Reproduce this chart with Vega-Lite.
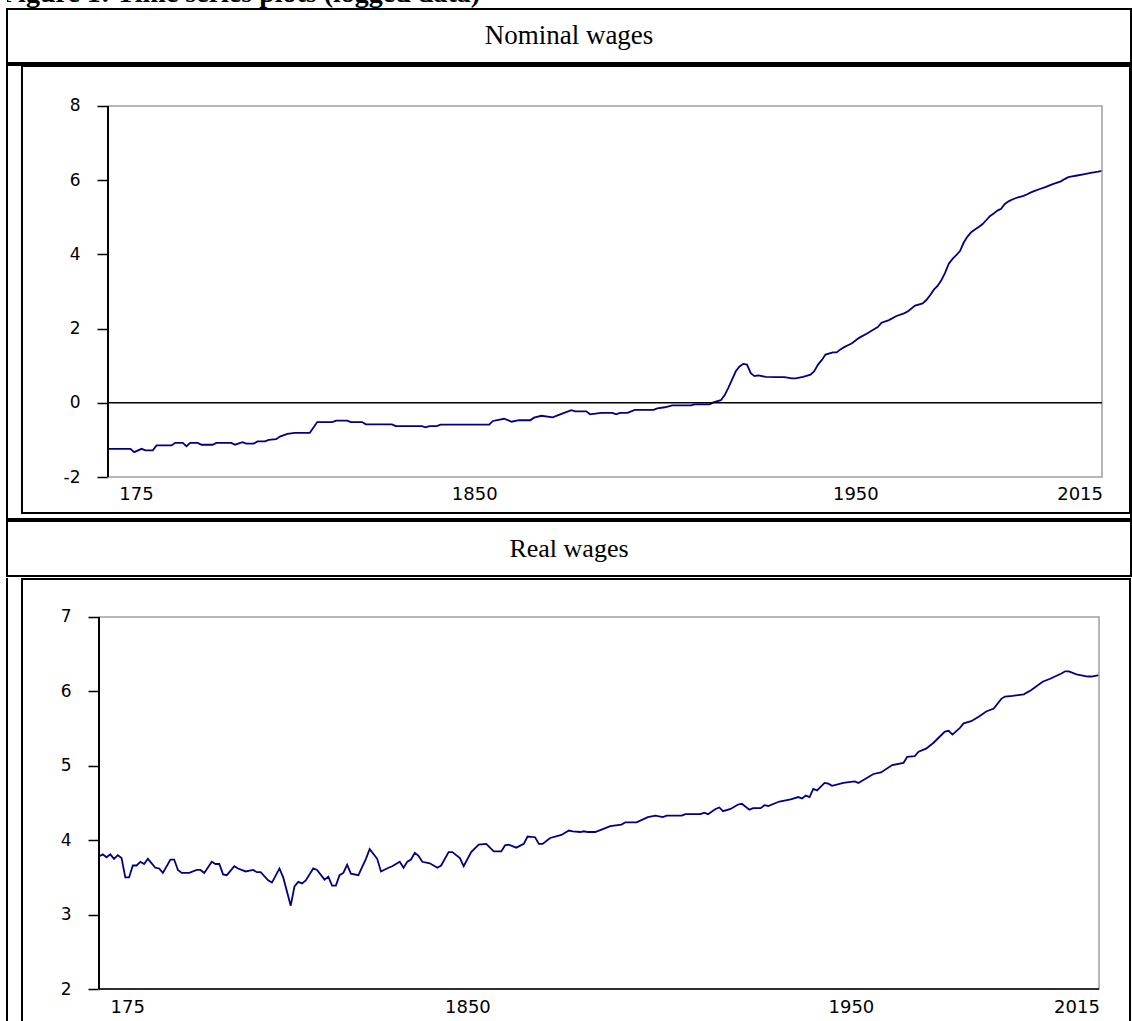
{
  "$schema": "https://vega.github.io/schema/vega-lite/v6.json",
  "padding": {"left": 6, "top": 0, "right": 0, "bottom": 0},
  "autosize": {"type": "pad"},
  "background": "white",
  "spacing": 0,
  "config": {
    "view": {"stroke": null},
    "concat": {"spacing": 0},
    "axis": {"grid": false, "domain": false, "labelFont": "DejaVu Sans", "labelFontSize": 17, "labelColor": "#000", "tickColor": "#000"}
  },
  "datasets": {
    "nominal": [
      {"year":1750,"value":-1.24},{"year":1756,"value":-1.24},{"year":1757,"value":-1.33},{"year":1759,"value":-1.24},{"year":1760,"value":-1.28},{"year":1762,"value":-1.28},{"year":1763,"value":-1.15},{"year":1767,"value":-1.15},{"year":1768,"value":-1.08},{"year":1770,"value":-1.08},{"year":1771,"value":-1.17},{"year":1772,"value":-1.08},{"year":1774,"value":-1.08},{"year":1775,"value":-1.13},{"year":1778,"value":-1.13},{"year":1779,"value":-1.08},{"year":1783,"value":-1.08},{"year":1784,"value":-1.13},{"year":1786,"value":-1.06},{"year":1787,"value":-1.10},{"year":1789,"value":-1.10},{"year":1790,"value":-1.04},{"year":1792,"value":-1.04},{"year":1793,"value":-1.00},{"year":1795,"value":-0.98},{"year":1796,"value":-0.91},{"year":1798,"value":-0.84},{"year":1800,"value":-0.81},{"year":1804,"value":-0.81},{"year":1806,"value":-0.52},{"year":1810,"value":-0.52},{"year":1811,"value":-0.48},{"year":1814,"value":-0.48},{"year":1815,"value":-0.52},{"year":1818,"value":-0.52},{"year":1819,"value":-0.58},{"year":1826,"value":-0.58},{"year":1827,"value":-0.63},{"year":1834,"value":-0.63},{"year":1835,"value":-0.66},{"year":1836,"value":-0.63},{"year":1838,"value":-0.63},{"year":1839,"value":-0.59},{"year":1852,"value":-0.59},{"year":1853,"value":-0.49},{"year":1856,"value":-0.43},{"year":1858,"value":-0.51},{"year":1860,"value":-0.47},{"year":1863,"value":-0.47},{"year":1864,"value":-0.40},{"year":1866,"value":-0.35},{"year":1869,"value":-0.39},{"year":1871,"value":-0.31},{"year":1874,"value":-0.20},{"year":1875,"value":-0.23},{"year":1878,"value":-0.23},{"year":1879,"value":-0.31},{"year":1882,"value":-0.27},{"year":1885,"value":-0.27},{"year":1886,"value":-0.31},{"year":1887,"value":-0.27},{"year":1889,"value":-0.27},{"year":1891,"value":-0.19},{"year":1896,"value":-0.19},{"year":1897,"value":-0.15},{"year":1899,"value":-0.12},{"year":1901,"value":-0.07},{"year":1906,"value":-0.07},{"year":1907,"value":-0.04},{"year":1911,"value":-0.04},{"year":1912,"value":0.01},{"year":1914,"value":0.07},{"year":1915,"value":0.20},{"year":1916,"value":0.40},{"year":1918,"value":0.85},{"year":1919,"value":0.98},{"year":1920,"value":1.05},{"year":1921,"value":1.03},{"year":1922,"value":0.80},{"year":1923,"value":0.72},{"year":1924,"value":0.74},{"year":1926,"value":0.70},{"year":1929,"value":0.69},{"year":1931,"value":0.69},{"year":1933,"value":0.66},{"year":1934,"value":0.66},{"year":1936,"value":0.70},{"year":1938,"value":0.76},{"year":1939,"value":0.85},{"year":1940,"value":1.03},{"year":1941,"value":1.15},{"year":1942,"value":1.30},{"year":1944,"value":1.36},{"year":1945,"value":1.36},{"year":1946,"value":1.44},{"year":1947,"value":1.50},{"year":1948,"value":1.55},{"year":1949,"value":1.60},{"year":1951,"value":1.75},{"year":1953,"value":1.86},{"year":1955,"value":1.98},{"year":1956,"value":2.04},{"year":1957,"value":2.16},{"year":1959,"value":2.23},{"year":1961,"value":2.34},{"year":1963,"value":2.41},{"year":1964,"value":2.46},{"year":1966,"value":2.62},{"year":1968,"value":2.68},{"year":1969,"value":2.77},{"year":1970,"value":2.90},{"year":1971,"value":3.05},{"year":1972,"value":3.15},{"year":1973,"value":3.30},{"year":1974,"value":3.50},{"year":1975,"value":3.75},{"year":1976,"value":3.88},{"year":1977,"value":3.98},{"year":1978,"value":4.09},{"year":1979,"value":4.32},{"year":1980,"value":4.48},{"year":1981,"value":4.60},{"year":1982,"value":4.67},{"year":1983,"value":4.74},{"year":1984,"value":4.81},{"year":1985,"value":4.92},{"year":1986,"value":5.03},{"year":1987,"value":5.10},{"year":1988,"value":5.18},{"year":1989,"value":5.23},{"year":1990,"value":5.36},{"year":1991,"value":5.43},{"year":1992,"value":5.48},{"year":1993,"value":5.52},{"year":1995,"value":5.58},{"year":1996,"value":5.62},{"year":1997,"value":5.67},{"year":1998,"value":5.71},{"year":1999,"value":5.75},{"year":2001,"value":5.82},{"year":2003,"value":5.90},{"year":2005,"value":5.97},{"year":2006,"value":6.03},{"year":2007,"value":6.08},{"year":2008,"value":6.10},{"year":2009,"value":6.12},{"year":2011,"value":6.16},{"year":2013,"value":6.20},{"year":2015,"value":6.23},{"year":2016,"value":6.25}
    ],
    "real": [
      {"year":1750,"value":3.78},{"year":1751,"value":3.81},{"year":1752,"value":3.77},{"year":1753,"value":3.81},{"year":1754,"value":3.75},{"year":1755,"value":3.80},{"year":1756,"value":3.76},{"year":1757,"value":3.50},{"year":1758,"value":3.50},{"year":1759,"value":3.66},{"year":1760,"value":3.66},{"year":1761,"value":3.71},{"year":1762,"value":3.68},{"year":1763,"value":3.75},{"year":1765,"value":3.63},{"year":1766,"value":3.62},{"year":1767,"value":3.56},{"year":1769,"value":3.74},{"year":1770,"value":3.74},{"year":1771,"value":3.60},{"year":1772,"value":3.56},{"year":1774,"value":3.56},{"year":1776,"value":3.60},{"year":1777,"value":3.60},{"year":1778,"value":3.56},{"year":1780,"value":3.71},{"year":1781,"value":3.68},{"year":1782,"value":3.68},{"year":1783,"value":3.54},{"year":1784,"value":3.53},{"year":1786,"value":3.65},{"year":1787,"value":3.62},{"year":1789,"value":3.58},{"year":1791,"value":3.60},{"year":1792,"value":3.57},{"year":1793,"value":3.57},{"year":1795,"value":3.46},{"year":1796,"value":3.43},{"year":1798,"value":3.62},{"year":1799,"value":3.50},{"year":1801,"value":3.12},{"year":1802,"value":3.38},{"year":1803,"value":3.44},{"year":1804,"value":3.42},{"year":1805,"value":3.46},{"year":1807,"value":3.62},{"year":1808,"value":3.60},{"year":1810,"value":3.47},{"year":1811,"value":3.51},{"year":1812,"value":3.39},{"year":1813,"value":3.39},{"year":1814,"value":3.53},{"year":1815,"value":3.56},{"year":1816,"value":3.67},{"year":1817,"value":3.55},{"year":1819,"value":3.53},{"year":1821,"value":3.75},{"year":1822,"value":3.88},{"year":1824,"value":3.75},{"year":1825,"value":3.58},{"year":1827,"value":3.63},{"year":1828,"value":3.65},{"year":1830,"value":3.71},{"year":1831,"value":3.63},{"year":1832,"value":3.71},{"year":1833,"value":3.74},{"year":1834,"value":3.83},{"year":1835,"value":3.79},{"year":1836,"value":3.71},{"year":1838,"value":3.69},{"year":1840,"value":3.63},{"year":1841,"value":3.66},{"year":1843,"value":3.84},{"year":1844,"value":3.84},{"year":1846,"value":3.76},{"year":1847,"value":3.65},{"year":1849,"value":3.84},{"year":1851,"value":3.94},{"year":1853,"value":3.95},{"year":1855,"value":3.85},{"year":1857,"value":3.85},{"year":1858,"value":3.93},{"year":1859,"value":3.94},{"year":1861,"value":3.90},{"year":1863,"value":3.95},{"year":1864,"value":4.05},{"year":1866,"value":4.04},{"year":1867,"value":3.95},{"year":1868,"value":3.95},{"year":1870,"value":4.03},{"year":1873,"value":4.07},{"year":1875,"value":4.13},{"year":1876,"value":4.12},{"year":1878,"value":4.11},{"year":1879,"value":4.12},{"year":1880,"value":4.11},{"year":1882,"value":4.11},{"year":1884,"value":4.15},{"year":1886,"value":4.19},{"year":1889,"value":4.21},{"year":1890,"value":4.24},{"year":1893,"value":4.24},{"year":1896,"value":4.31},{"year":1898,"value":4.33},{"year":1900,"value":4.31},{"year":1901,"value":4.33},{"year":1905,"value":4.33},{"year":1906,"value":4.35},{"year":1910,"value":4.35},{"year":1911,"value":4.37},{"year":1912,"value":4.35},{"year":1914,"value":4.42},{"year":1915,"value":4.44},{"year":1916,"value":4.39},{"year":1918,"value":4.42},{"year":1920,"value":4.48},{"year":1921,"value":4.49},{"year":1923,"value":4.41},{"year":1924,"value":4.43},{"year":1926,"value":4.43},{"year":1927,"value":4.47},{"year":1928,"value":4.46},{"year":1930,"value":4.50},{"year":1931,"value":4.52},{"year":1934,"value":4.55},{"year":1936,"value":4.58},{"year":1937,"value":4.56},{"year":1938,"value":4.60},{"year":1939,"value":4.58},{"year":1940,"value":4.69},{"year":1941,"value":4.67},{"year":1943,"value":4.77},{"year":1944,"value":4.76},{"year":1945,"value":4.73},{"year":1948,"value":4.77},{"year":1951,"value":4.79},{"year":1952,"value":4.77},{"year":1956,"value":4.89},{"year":1958,"value":4.91},{"year":1961,"value":5.01},{"year":1964,"value":5.04},{"year":1965,"value":5.12},{"year":1967,"value":5.13},{"year":1968,"value":5.19},{"year":1970,"value":5.23},{"year":1972,"value":5.31},{"year":1973,"value":5.36},{"year":1975,"value":5.46},{"year":1976,"value":5.47},{"year":1977,"value":5.42},{"year":1979,"value":5.51},{"year":1980,"value":5.57},{"year":1982,"value":5.60},{"year":1984,"value":5.66},{"year":1986,"value":5.73},{"year":1988,"value":5.77},{"year":1990,"value":5.90},{"year":1991,"value":5.93},{"year":1993,"value":5.94},{"year":1996,"value":5.96},{"year":1998,"value":6.02},{"year":2001,"value":6.13},{"year":2003,"value":6.17},{"year":2006,"value":6.24},{"year":2007,"value":6.27},{"year":2008,"value":6.27},{"year":2010,"value":6.23},{"year":2013,"value":6.20},{"year":2014,"value":6.20},{"year":2016,"value":6.22}
    ]
  },
  "vconcat": [
    {
      "width": 1124, "height": 8,
      "data": {"values": [{"caption": "Figure 1: Time series plots (logged data)"}]},
      "mark": {"type": "text", "clip": true, "align": "left", "baseline": "alphabetic", "font": "Liberation Serif", "fontWeight": "bold", "fontSize": 28, "color": "#000"},
      "encoding": {"text": {"field": "caption"}, "x": {"value": -6}, "y": {"value": 2}}
    },
    {
      "width": 1124, "height": 54,
      "view": {"stroke": "#000", "strokeWidth": 2},
      "data": {"values": [{"label": "Nominal wages"}]},
      "mark": {"type": "text", "font": "Liberation Serif", "fontSize": 27, "color": "#000"},
      "encoding": {"text": {"field": "label"}}
    },
    {
      "width": 1124, "height": 454,
      "view": {"stroke": "#000", "strokeWidth": 2},
      "layer": [
        {
          "data": {"name": "nominal"},
          "mark": {"type": "line", "color": "#000080", "strokeWidth": 1.8},
          "encoding": {
            "x": {"field": "year", "type": "quantitative", "scale": {"domain": [1722.97, 2023.76], "nice": false, "zero": false}, "title": null,
                  "axis": {"orient": "bottom", "offset": -42, "values": [1757.5, 1848, 1950, 2010], "labelExpr": "datum.value < 1800 ? '175' : datum.value < 1900 ? '1850' : datum.value < 1980 ? '1950' : '2015'", "ticks": false, "tickSize": 0, "labelPadding": 8, "labelFontSize": 18, "labelFlush": false, "labelOverlap": false, "labelBound": false, "title": null}},
            "y": {"field": "value", "type": "quantitative", "scale": {"domain": [-3.132, 9.105], "nice": false, "zero": false}, "title": null,
                  "axis": {"orient": "left", "offset": -101, "values": [-2, 0, 2, 4, 6, 8], "labelExpr": "'' + datum.value", "tickSize": 11, "tickWidth": 1.5, "labelPadding": 17, "labelFontSize": 17, "labelFlush": false, "labelOverlap": false, "labelBound": false, "title": null}}
          }
        },
        {
          "data": {"values": [{}]},
          "mark": {"type": "rect", "fillOpacity": 0, "stroke": "#000", "strokeWidth": 2},
          "encoding": {"x": {"datum": 1726.98, "type": "quantitative", "title": null}, "x2": {"datum": 2023.49}, "y": {"datum": -2.97, "type": "quantitative", "title": null}, "y2": {"datum": 9.078}}
        },
        {
          "data": {"values": [{}]},
          "mark": {"type": "rect", "fillOpacity": 0, "stroke": "#a0a0a0", "strokeWidth": 1.5},
          "encoding": {"x": {"datum": 1750, "type": "quantitative", "title": null}, "x2": {"datum": 2016}, "y": {"datum": -2, "type": "quantitative", "title": null}, "y2": {"datum": 8}}
        },
        {
          "data": {"values": [{}]},
          "mark": {"type": "rule", "color": "#000", "strokeWidth": 1.5},
          "encoding": {"x": {"datum": 1750, "type": "quantitative", "title": null}, "x2": {"datum": 2016}, "y": {"datum": 0, "type": "quantitative", "title": null}}
        },
        {
          "data": {"values": [{}]},
          "mark": {"type": "rule", "color": "#000", "strokeWidth": 2},
          "encoding": {"x": {"datum": 1750, "type": "quantitative", "title": null}, "y": {"datum": -2, "type": "quantitative", "title": null}, "y2": {"datum": 8}}
        }
      ]
    },
    {
      "width": 1124, "height": 55,
      "view": {"stroke": "#000", "strokeWidth": 2},
      "data": {"values": [{"label": "Real wages"}]},
      "mark": {"type": "text", "font": "Liberation Serif", "fontSize": 26, "color": "#000"},
      "encoding": {"text": {"field": "label"}}
    },
    {
      "width": 1124, "height": 450,
      "layer": [
        {
          "data": {"name": "real"},
          "mark": {"type": "line", "color": "#000080", "strokeWidth": 1.8},
          "encoding": {
            "x": {"field": "year", "type": "quantitative", "scale": {"domain": [1725.53, 2024.51], "nice": false, "zero": false}, "title": null,
                  "axis": {"orient": "bottom", "offset": -39, "values": [1757.5, 1848, 1950, 2010], "labelExpr": "datum.value < 1800 ? '175' : datum.value < 1900 ? '1850' : datum.value < 1980 ? '1950' : '2015'", "ticks": false, "tickSize": 0, "labelPadding": 9, "labelFontSize": 18, "labelFlush": false, "labelOverlap": false, "labelBound": false, "title": null}},
            "y": {"field": "value", "type": "quantitative", "scale": {"domain": [1.476, 7.524], "nice": false, "zero": false}, "title": null,
                  "axis": {"orient": "left", "offset": -92, "values": [2, 3, 4, 5, 6, 7], "labelExpr": "'' + datum.value", "tickSize": 11, "tickWidth": 1.5, "labelPadding": 17, "labelFontSize": 17, "labelFlush": false, "labelOverlap": false, "labelBound": false, "title": null}}
          }
        },
        {
          "data": {"values": [{}]},
          "mark": {"type": "rule", "color": "#000", "strokeWidth": 2},
          "encoding": {"x": {"datum": 1725.53, "type": "quantitative", "title": null}, "y": {"datum": 1.476, "type": "quantitative", "title": null}, "y2": {"datum": 7.524}}
        },
        {
          "data": {"values": [{}]},
          "mark": {"type": "rect", "fillOpacity": 0, "stroke": "#000", "strokeWidth": 2},
          "encoding": {"x": {"datum": 1729.52, "type": "quantitative", "title": null}, "x2": {"datum": 2024.25}, "y": {"datum": 1.516, "type": "quantitative", "title": null}, "y2": {"datum": 7.511}}
        },
        {
          "data": {"values": [{}]},
          "mark": {"type": "rect", "fillOpacity": 0, "stroke": "#a0a0a0", "strokeWidth": 1.5},
          "encoding": {"x": {"datum": 1750, "type": "quantitative", "title": null}, "x2": {"datum": 2016}, "y": {"datum": 2, "type": "quantitative", "title": null}, "y2": {"datum": 7}}
        },
        {
          "data": {"values": [{}]},
          "mark": {"type": "rule", "color": "#000", "strokeWidth": 1.5},
          "encoding": {"x": {"datum": 1750, "type": "quantitative", "title": null}, "x2": {"datum": 2016}, "y": {"datum": 2, "type": "quantitative", "title": null}}
        },
        {
          "data": {"values": [{}]},
          "mark": {"type": "rule", "color": "#000", "strokeWidth": 2},
          "encoding": {"x": {"datum": 1750, "type": "quantitative", "title": null}, "y": {"datum": 2, "type": "quantitative", "title": null}, "y2": {"datum": 7}}
        }
      ]
    }
  ]
}
